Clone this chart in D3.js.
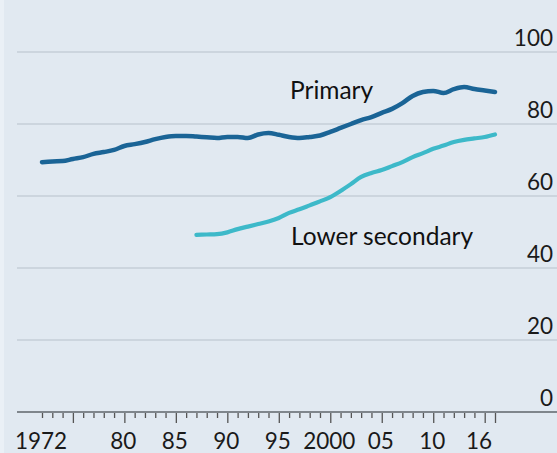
<!DOCTYPE html>
<html><head><meta charset="utf-8">
<script src="https://cdn.jsdelivr.net/npm/d3@7"></script>
<style>html,body{margin:0;padding:0;background:#e1e9f1;}svg{display:block;}</style>
</head><body>
<svg id="c" width="557" height="453"></svg>
<script>
const primaryYears = d3.range(1972, 2017);
const primaryValues = [69.4,69.6,69.7,70.3,70.8,71.7,72.2,72.8,73.9,74.4,75.0,75.8,76.4,76.7,76.7,76.5,76.3,76.1,76.4,76.4,76.1,77.1,77.5,77.0,76.4,76.1,76.4,76.8,77.8,78.9,80.0,81.1,81.9,83.1,84.2,85.8,87.8,88.9,89.2,88.6,89.7,90.3,89.7,89.3,88.9];
const lowerSecYears = d3.range(1987, 2017);
const lowerSecValues = [49.2,49.3,49.4,49.9,50.8,51.5,52.2,52.9,53.9,55.3,56.3,57.4,58.5,59.7,61.4,63.3,65.3,66.4,67.2,68.3,69.4,70.8,71.9,73.1,74.0,75.0,75.6,76.0,76.4,77.1];
const yTicks = [0,20,40,60,80,100];
const xLabelYears = [1972,1980,1985,1990,1995,2000,2005,2010,2016];
const xLabels = ["1972","80","85","90","95","2000","05","10","16"];
const seriesNames = ["Primary","Lower secondary"];

const svg = d3.select("#c");
const x = d3.scaleLinear().domain([1972, 2016]).range([42, 495]);
const y = d3.scaleLinear().domain([0, 100]).range([412, 52]);
const font = "Lato, 'Open Sans', sans-serif";

svg.append("rect").attr("x",0).attr("y",0).attr("width",557).attr("height",453).attr("fill","#e1e9f1");
svg.append("rect").attr("x",0).attr("y",0).attr("width",4).attr("height",453).attr("fill","#eaf0f6");

// gridlines
svg.append("g").selectAll("line").data(yTicks.filter(d=>d>0)).join("line")
  .attr("x1",17).attr("x2",557).attr("y1",d=>y(d)).attr("y2",d=>y(d))
  .attr("stroke","#c5ced7").attr("stroke-width",1.6);

// y labels
svg.append("g").selectAll("text").data(yTicks).join("text")
  .attr("x",553).attr("y",d=>y(d)-6).attr("text-anchor","end")
  .attr("font-family",font).attr("font-size",22.5).attr("fill","#1a1a1a")
  .text(d=>d);

// x axis
const xAxis = d3.axisBottom(x).tickValues(d3.range(1972,2017)).tickFormat("")
  .tickSize(5).tickSizeOuter(0);
const gx = svg.append("g").attr("transform","translate(0,412)").call(xAxis);
gx.select(".domain").remove();
gx.selectAll(".tick line").attr("stroke","#555").attr("stroke-width",1.3)
  .attr("y2", d => (d % 5 === 0 || d === 2016) ? 11 : 6);
svg.append("line").attr("x1",17).attr("x2",557).attr("y1",412).attr("y2",412)
  .attr("stroke","#7f868c").attr("stroke-width",2.2);

svg.append("g").selectAll("text").data(xLabelYears).join("text")
  .attr("x",(d)=> d === 2016 ? x(d) - 3 : x(d) - 1)
  .attr("y",449)
  .attr("text-anchor", d => d === 2016 ? "end" : "middle")
  .attr("font-family",font).attr("font-size",22.5).attr("fill","#1a1a1a")
  .text((d,i)=>xLabels[i]);

const line = d3.line().x(d=>x(d[0])).y(d=>y(d[1])).curve(d3.curveMonotoneX);
svg.append("path").datum(primaryYears.map((yr,i)=>[yr,primaryValues[i]]))
  .attr("d",line).attr("fill","none").attr("stroke","#1a6496").attr("stroke-width",4.5)
  .attr("stroke-linejoin","round").attr("stroke-linecap","round");
svg.append("path").datum(lowerSecYears.map((yr,i)=>[yr,lowerSecValues[i]]))
  .attr("d",line).attr("fill","none").attr("stroke","#3db9c9").attr("stroke-width",4.2)
  .attr("stroke-linejoin","round").attr("stroke-linecap","round");

svg.append("text").attr("x",290).attr("y",99).attr("font-family",font).attr("font-size",24.5)
  .attr("fill","#111").text(seriesNames[0]);
svg.append("text").attr("x",291).attr("y",245).attr("font-family",font).attr("font-size",24.5)
  .attr("fill","#111").text(seriesNames[1]);
</script>
</body></html>
